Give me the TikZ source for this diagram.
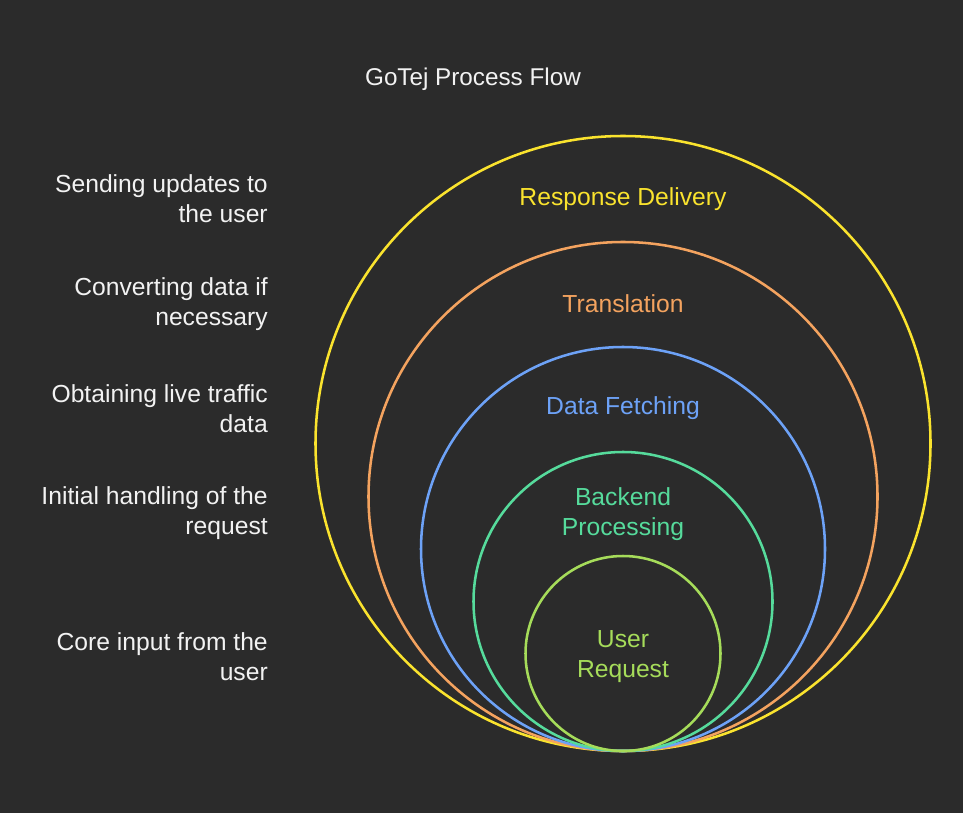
\documentclass[tikz,border=0pt]{standalone}
\usepackage{fontspec}
\setmainfont{Liberation Sans}
\definecolor{bg}{HTML}{2B2B2B}
\definecolor{cyel}{HTML}{FAE32E}
\definecolor{corg}{HTML}{F4A35F}
\definecolor{cblu}{HTML}{6DA2F7}
\definecolor{cgrn}{HTML}{56DB9C}
\definecolor{clim}{HTML}{A6DC5A}
\definecolor{ctxt}{HTML}{F2F2F2}
\tikzset{
  ring/.style={line width=1.9pt},
  lbl/.style={font=\fontsize{18.5}{22.5}\selectfont, align=center, inner sep=0pt},
  side/.style={font=\fontsize{18.5}{22.5}\selectfont, align=right, anchor=east, inner sep=0pt, text=ctxt},
}
\begin{document}
\begin{tikzpicture}[x=0.75pt,y=-0.75pt]
\fill[bg] (0,0) rectangle (963,813);
\useasboundingbox (0,0) rectangle (963,813);
\node[font=\fontsize{18.2}{22}\selectfont, text=ctxt, inner sep=0pt] (title) at (473,79) {GoTej Process Flow};
% circles tangent at bottom (623,751)
\draw[ring, cyel] (623,443.5) circle[radius=307.5];
\draw[ring, corg] (623,496.5) circle[radius=254.5];
\draw[ring, cblu] (623,549) circle[radius=202];
\draw[ring, cgrn] (623,601.5) circle[radius=149.5];
\draw[ring, clim] (623,653.5) circle[radius=97.5];
% circle labels
\node[lbl, text=cyel] (resp) at (623,199) {Response Delivery};
\node[lbl, text=corg] (trans) at (623,303.5) {Translation};
\node[lbl, text=cblu] (fetch) at (623,408.5) {Data Fetching};
\node[lbl, text=cgrn] (back) at (623,514) {Backend\\Processing};
\node[lbl, text=clim] (user) at (623,657) {User\\Request};
% side descriptions
\node[side] (d1) at (268,199) {Sending updates to\\the user};
\node[side] (d2) at (268,304) {Converting data if\\necessary};
\node[side] (d3) at (268,408.5) {Obtaining live traffic\\data};
\node[side] (d4) at (268,513.5) {Initial handling of the\\request};
\node[side] (d5) at (268,656.5) {Core input from the\\user};
\end{tikzpicture}
\end{document}
